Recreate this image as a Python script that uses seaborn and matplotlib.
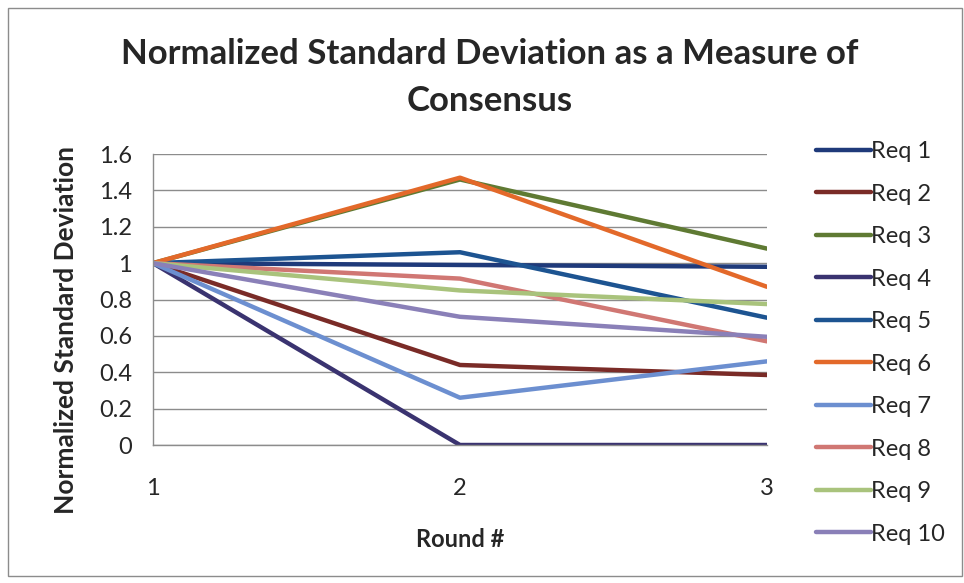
import matplotlib
matplotlib.use("Agg")
import matplotlib.pyplot as plt
import seaborn as sns
import pandas as pd
from matplotlib.patches import Rectangle
from matplotlib.lines import Line2D

rounds = [1, 2, 3]
series_names = ["Req 1", "Req 2", "Req 3", "Req 4", "Req 5",
                "Req 6", "Req 7", "Req 8", "Req 9", "Req 10"]
req1 = [1.0, 0.99, 0.98]
req2 = [1.0, 0.44, 0.385]
req3 = [1.0, 1.46, 1.08]
req4 = [1.0, 0.0, 0.0]
req5 = [1.0, 1.06, 0.70]
req6 = [1.0, 1.47, 0.87]
req7 = [1.0, 0.26, 0.46]
req8 = [1.0, 0.915, 0.57]
req9 = [1.0, 0.85, 0.775]
req10 = [1.0, 0.705, 0.595]
values = [req1, req2, req3, req4, req5, req6, req7, req8, req9, req10]
y_ticks = [0, 0.2, 0.4, 0.6, 0.8, 1, 1.2, 1.4, 1.6]
y_tick_labels = ["0", "0.2", "0.4", "0.6", "0.8", "1", "1.2", "1.4", "1.6"]

colors = ["#1F3A7A", "#7A2B27", "#5F7A33", "#3A3370", "#1D5491",
          "#E3692A", "#6C8FD0", "#D07773", "#A9C37C", "#8A80B8"]

rows = []
for name, vals in zip(series_names, values):
    for r, v in zip(rounds, vals):
        rows.append({"Round": r, "Value": v, "Series": name})
df = pd.DataFrame(rows)

sns.set_style("white")
plt.rcParams["font.family"] = ["Lato", "DejaVu Sans"]

fig = plt.figure(figsize=(9.64, 5.83), dpi=100)
ax = fig.add_axes([0.1587, 0.2367, 0.6369, 0.4991])

sns.lineplot(data=df, x="Round", y="Value", hue="Series", hue_order=series_names,
             palette=colors, linewidth=3.2, ax=ax, legend=False, sort=False)

ax.set_xlim(1, 3)
ax.set_ylim(0, 1.6)
ax.set_yticks(y_ticks)
ax.set_yticklabels(y_tick_labels, fontsize=17)
ax.set_xticks(rounds)
ax.set_xticklabels([str(r) for r in rounds], fontsize=17)
ax.yaxis.grid(True, color="#8C8C8C", linewidth=1.0)
ax.xaxis.grid(False)
for s in ["top", "right"]:
    ax.spines[s].set_visible(False)
ax.spines["left"].set_color("#8C8C8C")
ax.spines["bottom"].set_color("#8C8C8C")
ax.spines["left"].set_linewidth(1.0)
ax.spines["bottom"].set_linewidth(1.0)
ax.tick_params(axis="y", direction="out", length=6, width=1, color="#8C8C8C", pad=9)
ax.tick_params(axis="x", direction="out", length=5, width=1, color="#8C8C8C", pad=19)
ax.set_axisbelow(True)

ax.set_xlabel("Round #", fontsize=17, fontweight="bold", va="center")
ax.set_ylabel("Normalized Standard Deviation", fontsize=19, fontweight="bold", va="center")
ax.xaxis.set_label_coords(0.5, -0.326)
ax.yaxis.set_label_coords(-0.142, 0.395)

fig.text(0.508, 0.907, "Normalized Standard Deviation as a Measure of",
         ha="center", va="center", fontsize=25, fontweight="bold")
fig.text(0.508, 0.826, "Consensus", ha="center", va="center",
         fontsize=25, fontweight="bold")

handles = [Line2D([0], [0], color=c, linewidth=3.2) for c in colors]
fig.legend(handles, series_names, loc="upper left", bbox_to_anchor=(0.837, 0.774),
           frameon=False, fontsize=17, handlelength=2.3, handletextpad=0.02,
           labelspacing=0.91, borderaxespad=0)

fig.patches.append(Rectangle((0.008, 0.012), 0.99, 0.975, transform=fig.transFigure,
                             fill=False, edgecolor="#8C8C8C", linewidth=1.0))

fig.savefig("out.png", dpi=100, facecolor="white")
